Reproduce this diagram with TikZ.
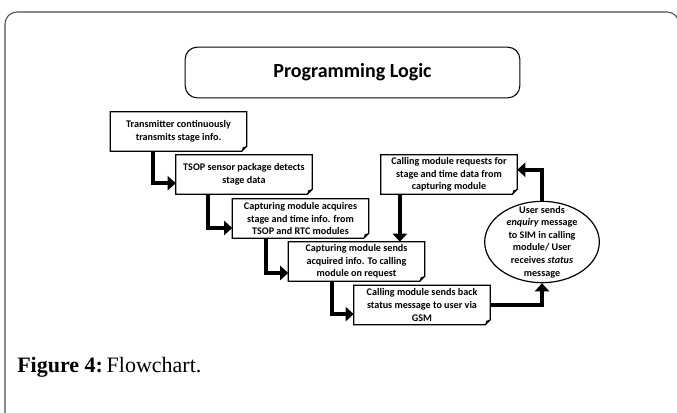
\documentclass[tikz,border=0pt]{standalone}
\usepackage{fontspec}
\setmainfont{Liberation Serif}
\newfontfamily\boxfont{Carlito}
\usetikzlibrary{shapes.geometric,arrows.meta,calc}

\tikzset{
  notebox/.style={minimum width=102pt, minimum height=29.25pt, inner sep=0pt, align=center,
    font=\boxfont\bfseries\fontsize{7.6}{9.4}\selectfont},
  ellbox/.style={ellipse, draw, line width=0.9pt, minimum width=86pt, minimum height=61pt, inner sep=0pt},
  flow/.style={line width=3pt, -{Triangle[length=6pt,width=10.5pt]}},
}

\begin{document}
\begin{tikzpicture}[x=0.75pt,y=0.75pt,yscale=-1,xscale=1]
\useasboundingbox (0,0) rectangle (677,412);
\clip (0,0) rectangle (677,412);

%Shape: Frame
\draw [draw=black!70, line width=0.8pt, rounded corners=9pt] (5,430) -- (5,12) -- (679,12) -- (679,430) ;

% Title
\node [draw, line width=0.8pt, rounded corners=9pt, minimum width=251pt, minimum height=38pt,
  font=\boxfont\bfseries\fontsize{15}{18}\selectfont] (title) at (352.5,72.5) {Programming Logic};

% Steps
\node [notebox] (tx) at (178.5,131.5) {Transmitter continuously\\transmits stage info.};
\node [notebox] (tsop) at (244,174.5) {TSOP sensor package detects\\stage data};
\node [notebox] (acq) at (300.5,218.5) {Capturing module acquires\\stage and time info. from\\TSOP and RTC modules};
\node [notebox] (send) at (356.5,261.5) {Capturing module sends\\acquired info. To calling\\module on request};
\node [notebox] (back) at (422,305) {Calling module sends back\\status message to user via\\GSM};
\node [notebox] (req) at (449,174.5) {Calling module requests for\\stage and time data from\\capturing module};

%Shape: Ellipse
\node [ellbox] (ell) at (542,242) {};
\node [notebox, minimum width=0pt, minimum height=0pt] (elltext) at (ell.center)
  {User sends\\\textit{enquiry} message\\to SIM in calling\\module/ User\\receives \textit{status}\\message};

% folded corners
\foreach \n in {tx,tsop,acq,send,back,req}{
  \draw [line width=0.9pt] (\n.north west) -- (\n.north east) -- ($(\n.south east)+(0,-5)$) -- ($(\n.south east)+(-5,0)$) -- (\n.south west) -- cycle ;
  \fill ($(\n.south east)+(0,-5)$) -- ($(\n.south east)+(-5,0)$) -- ($(\n.south east)+(-4,-4)$) -- cycle ;
}

% Arrows
\draw [flow] ($(tx.south west)!0.31!(tx.south east)$) |- ($(tsop.north west)!0.72!(tsop.south west)$) ;
\draw [flow] ($(tsop.south west)!0.235!(tsop.south east)$) |- ($(acq.north west)!0.74!(acq.south west)$) ;
\draw [flow] ($(acq.south west)!0.25!(acq.south east)$) |- ($(send.north west)!0.79!(send.south west)$) ;
\draw [flow] ($(send.south west)!0.32!(send.south east)$) |- ($(back.north west)!0.73!(back.south west)$) ;
\draw [flow] (back.east) -| (ell.south) ;
\draw [flow] (ell.north) |- ($(req.north east)!0.38!(req.south east)$) ;
\draw [flow] ($(req.south west)!0.14!(req.south east)$) coordinate (r7) -- (r7 |- send.north) ;

% Caption
\node [anchor=base west, inner sep=0pt, font=\fontsize{16.5}{19}\selectfont] (caption) at (17,372) {\textbf{Figure 4:}\,Flowchart.};

\end{tikzpicture}
\end{document}
